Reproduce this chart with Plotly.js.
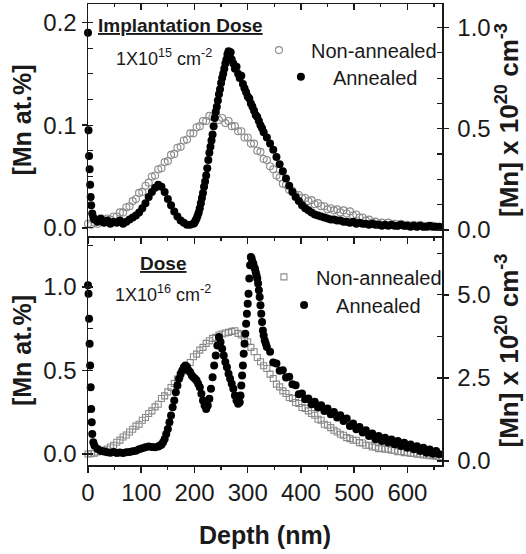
<!DOCTYPE html>
<html>
<head>
<meta charset="utf-8">
<script src="https://cdn.plot.ly/plotly-3.0.1.min.js"></script>
<style>html,body{margin:0;padding:0;background:#fff}#chart{width:526px;height:554px}</style>
</head>
<body>
<div id="chart"></div>
<script>
// ---------------- data ----------------
// shared depth grid (nm) for the non-annealed profiles
const depthNon = [
  0,6,12,18,24,30,36,42,48,54,
  60,66,72,78,84,90,96,102,108,114,
  120,126,132,138,144,150,156,162,168,174,
  180,186,192,198,204,210,216,222,228,234,
  240,246,252,258,264,270,276,282,288,294,
  300,306,312,318,324,330,336,342,348,354,
  360,366,372,378,384,390,396,402,408,414,
  420,426,432,438,444,450,456,462,468,474,
  480,486,492,498,504,510,516,522,528,534,
  540,546,552,558,564,570,576,582,588,594,
  600,606,612,618,624,630,636,642,648,654,
  660
];

// 1x10^15 cm^-2 : non-annealed [Mn at.%]
const lowDoseNonAnnealed = [
  0.004,0.003,0.005,0.004,0.007,0.006,0.009,0.008,0.011,0.011,
  0.015,0.015,0.020,0.021,0.026,0.028,0.034,0.035,0.041,0.044,
  0.050,0.051,0.057,0.058,0.064,0.065,0.071,0.072,0.078,0.079,
  0.085,0.086,0.092,0.092,0.098,0.099,0.104,0.104,0.109,0.108,
  0.110,0.105,0.107,0.102,0.104,0.099,0.099,0.094,0.094,0.088,
  0.088,0.082,0.082,0.075,0.074,0.067,0.066,0.060,0.057,0.051,
  0.049,0.043,0.042,0.037,0.036,0.032,0.032,0.029,0.029,0.026,
  0.027,0.023,0.024,0.021,0.021,0.018,0.019,0.017,0.018,0.015,
  0.017,0.014,0.016,0.012,0.013,0.010,0.010,0.007,0.008,0.005,
  0.006,0.004,0.005,0.003,0.005,0.003,0.004,0.002,0.004,0.002,
  0.003,0.002,0.003,0.001,0.003,0.001,0.002,0.001,0.002,0.001,
  0.001
];

// 1x10^16 cm^-2 : non-annealed [Mn at.%]
const highDoseNonAnnealed = [
  0.000,0.002,0.005,0.012,0.015,0.022,0.030,0.042,0.052,0.070,
  0.083,0.102,0.114,0.132,0.148,0.167,0.178,0.202,0.218,0.242,
  0.258,0.282,0.298,0.332,0.348,0.372,0.398,0.422,0.448,0.472,
  0.498,0.522,0.548,0.582,0.598,0.622,0.638,0.662,0.678,0.692,
  0.698,0.712,0.718,0.724,0.728,0.734,0.738,0.722,0.712,0.688,
  0.672,0.638,0.612,0.578,0.552,0.528,0.512,0.478,0.452,0.418,
  0.402,0.378,0.362,0.338,0.332,0.308,0.302,0.278,0.272,0.258,
  0.242,0.232,0.208,0.202,0.178,0.172,0.158,0.142,0.132,0.118,
  0.112,0.098,0.092,0.082,0.082,0.068,0.066,0.052,0.052,0.042,
  0.042,0.032,0.034,0.028,0.029,0.022,0.022,0.014,0.015,0.008,
  0.010,0.003,0.005,-0.002,0.000,-0.006,-0.006,-0.011,-0.010,-0.014,
  -0.016
];

// 1x10^15 cm^-2 : annealed
const depthLowAnnealed = [
  0,1,2,3,4,5,6,8,10,
  12,18,24,30,36,42,48,54,60,66,
  72,78,84,90,96,102,108,114,120,126,
  132,138,144,150,156,162,168,174,180,186,
  192,198,
  200,202,204,206,208,210,212,214,216,218,
  220,222,224,226,228,230,232,234,236,238,
  240,242,244,246,248,250,252,254,256,258,
  260,262,264,266,268,270,
  273,276,279,282,285,288,291,294,297,300,
  303,306,309,312,315,318,321,324,327,330,
  336,342,348,354,360,366,372,378,384,390,
  396,402,408,414,420,426,432,438,444,450,
  456,462,468,474,480,486,492,498,504,510,
  516,522,528,534,540,546,552,558,564,570,
  576,582,588,594,600,606,612,618,624,630,
  636,642,648,654,660
];
const lowDoseAnnealed = [
  0.190,0.095,0.070,0.057,0.042,0.030,0.022,0.014,0.010,
  0.008,0.006,0.009,0.005,0.007,0.004,0.006,0.005,0.007,0.004,
  0.006,0.008,0.010,0.012,0.015,0.019,0.024,0.030,0.035,0.039,
  0.042,0.040,0.035,0.028,0.022,0.016,0.011,0.007,0.005,0.003,
  0.003,0.004,
  0.005,0.007,0.009,0.012,0.015,0.019,0.024,0.029,0.034,0.040,
  0.045,0.051,0.058,0.066,0.073,0.079,0.085,0.091,0.099,0.107,
  0.113,0.118,0.124,0.130,0.135,0.141,0.146,0.150,0.155,0.160,
  0.164,0.169,0.172,0.168,0.171,0.164,
  0.160,0.155,0.157,0.150,0.146,0.148,0.140,0.136,0.132,0.128,
  0.126,0.121,0.118,0.114,0.110,0.108,0.104,0.100,0.097,0.093,
  0.088,0.082,0.076,0.069,0.062,0.055,0.048,0.041,0.035,0.030,
  0.026,0.022,0.019,0.017,0.015,0.013,0.012,0.011,0.010,0.009,
  0.008,0.008,0.007,0.007,0.006,0.006,0.005,0.006,0.004,0.005,
  0.004,0.004,0.003,0.004,0.003,0.003,0.002,0.003,0.002,0.003,
  0.002,0.002,0.003,0.002,0.002,0.001,0.002,0.001,0.002,0.001,
  0.001,0.002,0.001,0.001,0.001
];

// 1x10^16 cm^-2 : annealed
const depthHighAnnealed = [
  0,1,2,3,4,5,6,7,8,10,
  12,18,24,30,36,42,48,54,60,66,
  72,78,84,90,96,102,108,114,120,126,
  132,
  135,138,141,144,147,150,153,156,159,162,
  165,168,171,174,177,180,183,186,189,192,
  195,198,201,204,207,210,213,216,219,222,
  225,228,231,234,237,240,243,246,249,252,
  255,258,261,264,267,270,273,276,279,282,
  285,
  286.5,288,289.5,291,292.5,294,295.5,297,298.5,300,
  301.5,303,304.5,306,307.5,309,310.5,312,313.5,315,
  316.5,318,319.5,321,322.5,324,325.5,327,328.5,330,
  332,334,336,
  342,348,354,360,366,372,378,384,390,396,
  402,408,414,420,426,432,438,444,450,456,
  462,468,474,480,486,492,498,504,510,516,
  522,528,534,540,546,552,558,564,570,576,
  582,588,594,600,606,612,618,624,630,636,
  642,648,654,660
];
const highDoseAnnealed = [
  1.010,0.960,0.810,0.660,0.530,0.400,0.270,0.190,0.120,0.070,
  0.050,0.030,0.020,0.015,0.010,0.008,0.012,0.006,0.009,0.006,
  0.010,0.012,0.016,0.020,0.028,0.035,0.040,0.045,0.042,0.040,
  0.045,
  0.050,0.055,0.070,0.090,0.120,0.150,0.190,0.230,0.280,0.320,
  0.370,0.410,0.450,0.480,0.500,0.520,0.530,0.520,0.500,0.490,
  0.470,0.460,0.450,0.440,0.420,0.400,0.360,0.320,0.290,0.270,
  0.290,0.330,0.390,0.460,0.530,0.590,0.650,0.700,0.670,0.630,
  0.590,0.550,0.520,0.480,0.450,0.420,0.390,0.350,0.320,0.300,
  0.310,
  0.350,0.410,0.470,0.530,0.600,0.660,0.720,0.780,0.840,0.900,
  0.960,1.050,1.130,1.180,1.170,1.150,1.140,1.120,1.110,1.090,
  1.070,1.050,1.020,0.980,0.940,0.890,0.840,0.790,0.740,0.710,
  0.680,0.660,0.640,
  0.612,0.548,0.542,0.498,0.502,0.458,0.462,0.418,0.412,0.358,
  0.362,0.328,0.332,0.298,0.312,0.278,0.292,0.258,0.272,0.238,
  0.252,0.218,0.232,0.198,0.212,0.168,0.182,0.148,0.162,0.128,
  0.142,0.108,0.122,0.088,0.107,0.078,0.097,0.068,0.087,0.058,
  0.077,0.048,0.067,0.038,0.057,0.028,0.047,0.018,0.037,0.008,
  0.027,0.002,0.018,-0.002
];

// axis tick values / labels
const depthTicks = [0,100,200,300,400,500,600];
const seriesNames = ['Non-annealed','Annealed'];

// ---------------- styling ----------------
const FONT = 'Liberation Sans, Arial, Helvetica, sans-serif';
const INK = '#1a1a1a';
const GREY = '#8a8a8a';
const xRange = [0, 665];
const split = 0.4967;

const traces = [
  {x: depthNon, y: lowDoseNonAnnealed, name: seriesNames[0], type: 'scatter', mode: 'markers',
   xaxis: 'x', yaxis: 'y', legend: 'legend', cliponaxis: false,
   marker: {symbol: 'circle-open', size: 7, color: GREY, line: {width: 1.1, color: GREY}}},
  {x: depthLowAnnealed, y: lowDoseAnnealed, name: seriesNames[1], type: 'scatter', mode: 'markers',
   xaxis: 'x', yaxis: 'y', legend: 'legend2', cliponaxis: false,
   marker: {symbol: 'circle', size: 8, color: '#000'}},
  {x: depthNon, y: highDoseNonAnnealed, name: seriesNames[0], type: 'scatter', mode: 'markers',
   xaxis: 'x2', yaxis: 'y3', legend: 'legend3', cliponaxis: false,
   marker: {symbol: 'square-open', size: 6, color: GREY, line: {width: 1.1, color: GREY}}},
  {x: depthHighAnnealed, y: highDoseAnnealed, name: seriesNames[1], type: 'scatter', mode: 'markers',
   xaxis: 'x2', yaxis: 'y3', legend: 'legend4', cliponaxis: false,
   marker: {symbol: 'circle', size: 8, color: '#000'}},
  // empty carriers so the right-hand concentration axes and the top frame axis get drawn
  {x: [], y: [], type: 'scatter', mode: 'markers', xaxis: 'x', yaxis: 'y2', showlegend: false, hoverinfo: 'skip'},
  {x: [], y: [], type: 'scatter', mode: 'markers', xaxis: 'x2', yaxis: 'y4', showlegend: false, hoverinfo: 'skip'},
  {x: [], y: [], type: 'scatter', mode: 'markers', xaxis: 'x3', yaxis: 'y', showlegend: false, hoverinfo: 'skip'}
];

const axisLine = {showline: true, linecolor: INK, linewidth: 1.5, showgrid: false, zeroline: false,
                  tickcolor: INK, tickwidth: 1.5, tickfont: {family: FONT, size: 24, color: INK}};

function xAxis(extra) {
  return Object.assign({}, axisLine, {range: xRange, tickvals: depthTicks, ticks: 'outside', ticklen: 6,
    minor: {ticks: 'outside', ticklen: 3, dtick: 50, tick0: 0, tickcolor: INK, tickwidth: 1.2, showgrid: false}}, extra);
}
function yAxis(extra, minorStep) {
  return Object.assign({}, axisLine, {ticks: 'outside', ticklen: 5, tickformat: '.1f',
    minor: {ticks: 'inside', ticklen: 5, dtick: minorStep, tickcolor: INK, tickwidth: 1.2, showgrid: false}}, extra);
}
const legendBase = {xanchor: 'left', yanchor: 'middle', bgcolor: 'rgba(0,0,0,0)', borderwidth: 0,
                    itemwidth: 54, font: {family: FONT, size: 20, color: INK}};
const titleFont = {family: FONT, size: 25, color: INK, weight: 'bold'};
const rightTitleFont = {family: FONT, size: 26, color: INK, weight: 'bold'};

const layout = {
  width: 526, height: 554,
  margin: {l: 88, r: 84, t: 4, b: 89},
  paper_bgcolor: '#fff', plot_bgcolor: '#fff',
  font: {family: FONT, size: 20, color: INK},
  showlegend: true,
  xaxis: xAxis({domain: [0, 1], anchor: 'y', showticklabels: false}),
  xaxis3: xAxis({overlaying: 'x', side: 'top', anchor: 'y', showticklabels: false, ticks: 'inside',
                 minor: {ticks: 'inside', ticklen: 3, dtick: 50, tick0: 0, tickcolor: INK, tickwidth: 1.2}}),
  xaxis2: xAxis({domain: [0, 1], anchor: 'y3',
                 title: {text: 'Depth (nm)', font: {family: FONT, size: 25, color: INK, weight: 'bold'}, standoff: 21}}),
  yaxis: yAxis({domain: [split, 1], anchor: 'x', range: [-0.008, 0.218], dtick: 0.1, tick0: 0,
                title: {text: '[Mn at.%]', font: titleFont, standoff: 4}}, 0.025),
  yaxis2: yAxis({overlaying: 'y', side: 'right', anchor: 'x', range: [-0.03, 1.116], dtick: 0.5, tick0: 0,
                 ticklabelstandoff: 4,
                 title: {text: '[Mn] x 10<sup>20</sup> cm<sup>-3</sup>', font: rightTitleFont, standoff: 5}}, 0.125),
  yaxis3: yAxis({domain: [0, split], anchor: 'x2', range: [-0.066, 1.305], dtick: 0.5, tick0: 0,
                 title: {text: '[Mn at.%]', font: titleFont, standoff: 4}}, 0.25),
  yaxis4: yAxis({overlaying: 'y3', side: 'right', anchor: 'x2', range: [-0.12, 6.77], dtick: 2.5, tick0: 0,
                 ticklabelstandoff: 4,
                 title: {text: '[Mn] x 10<sup>20</sup> cm<sup>-3</sup>', font: rightTitleFont, standoff: 5}}, 1.25),
  legend:  Object.assign({}, legendBase, {x: 0.449, y: 0.900}),
  legend2: Object.assign({}, legendBase, {x: 0.511, y: 0.842}),
  legend3: Object.assign({}, legendBase, {x: 0.463, y: 0.408}),
  legend4: Object.assign({}, legendBase, {x: 0.520, y: 0.347}),
  annotations: [
    {xref: 'paper', yref: 'paper', x: 0.26, y: 0.954, showarrow: false, xanchor: 'center', yanchor: 'middle',
     text: '<u>Implantation Dose</u>', font: {family: FONT, size: 19, color: INK, weight: 'bold'}},
    {xref: 'paper', yref: 'paper', x: 0.215, y: 0.885, showarrow: false, xanchor: 'center', yanchor: 'middle',
     text: '1X10<sup>15</sup> cm<sup>-2</sup>', font: {family: FONT, size: 18, color: INK}},
    {xref: 'paper', yref: 'paper', x: 0.212, y: 0.438, showarrow: false, xanchor: 'center', yanchor: 'middle',
     text: '<u>Dose</u>', font: {family: FONT, size: 19, color: INK, weight: 'bold'}},
    {xref: 'paper', yref: 'paper', x: 0.212, y: 0.373, showarrow: false, xanchor: 'center', yanchor: 'middle',
     text: '1X10<sup>16</sup> cm<sup>-2</sup>', font: {family: FONT, size: 18, color: INK}}
  ]
};

Plotly.newPlot('chart', traces, layout, {staticPlot: true, displayModeBar: false});
</script>
</body>
</html>
